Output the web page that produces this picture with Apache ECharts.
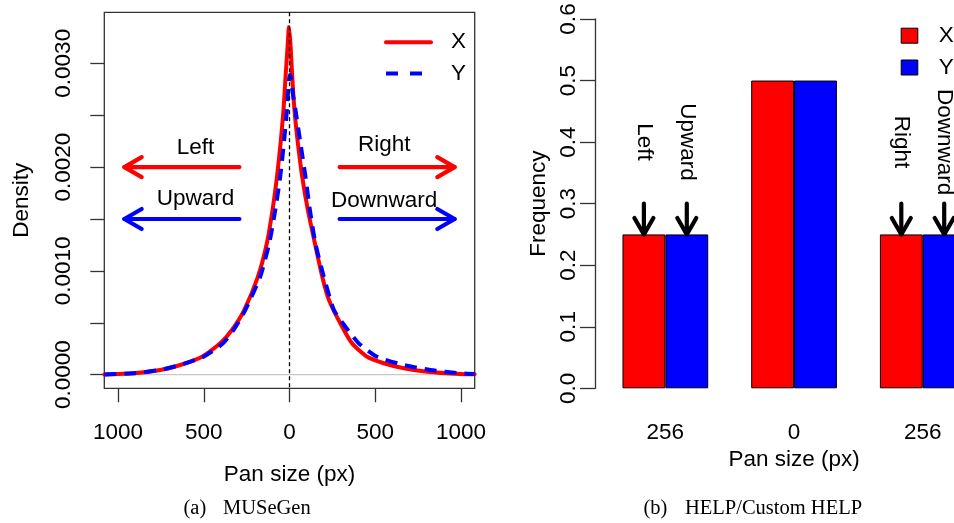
<!DOCTYPE html>
<html><head><meta charset="utf-8">
<script src="https://cdn.jsdelivr.net/npm/echarts@6/dist/echarts.min.js"></script>
<style>html,body{margin:0;padding:0;background:#fff}#c{width:954px;height:523px}</style>
</head><body><div id="c"></div>
<script>
// ---------- Panel (a): MUSeGen density ----------
const panX = [-1080, -909, -753, -637, -510, -404, -336, -264, -184, -132, -99, -73, -52, -35, -23, -12, -3, 6, 16, 29, 49, 74, 107, 148, 191, 230, 307, 365, 453, 550, 667, 803, 995, 1080];
const densX = [0.000003, 0.0000135, 0.000045, 0.0000935, 0.000173, 0.000302, 0.000431, 0.000623, 0.000944, 0.001266, 0.001587, 0.001908, 0.002229, 0.00255, 0.002871, 0.00314, 0.00335, 0.00318, 0.002871, 0.00255, 0.002229, 0.001908, 0.001587, 0.001266, 0.000944, 0.00072, 0.000462, 0.000302, 0.000173, 0.00011, 0.0000617, 0.0000289, 0.0000067, 0.000004];
const panY = [-1080, -909, -753, -637, -501, -388, -326, -258, -171, -118, -83, -54, -33, -15, -5, 2, 10, 20, 35, 64, 93, 119, 151, 200, 259, 326, 404, 511, 667, 820, 995, 1080];
const densY = [0.000003, 0.000014, 0.000046, 0.0000935, 0.000173, 0.000302, 0.000431, 0.000623, 0.000944, 0.001266, 0.001587, 0.001908, 0.002229, 0.00255, 0.00281, 0.00289, 0.00285, 0.0027, 0.00255, 0.002229, 0.001908, 0.001587, 0.001266, 0.000944, 0.000623, 0.000462, 0.000302, 0.000173, 0.0000935, 0.0000453, 0.0000135, 0.000006];
const densTicks = [0, 0.0005, 0.001, 0.0015, 0.002, 0.0025, 0.003];
const densLabels = [0, 0.001, 0.002, 0.003];
const panTicks = [-1000, -500, 0, 500, 1000];
// direction annotations (data space)
const dirNames = ['Left', 'Upward', 'Right', 'Downward'];
const dirAxis = ['X', 'Y', 'X', 'Y'];
const dirFrom = [-292, -292, 292, 292];
const dirTo = [-963, -963, 963, 963];
const dirLevel = [0.002, 0.0015, 0.002, 0.0015];
const dirLabelX = [-548, -548, 552, 552];
const dirLabelY = [0.00219, 0.00169, 0.00221, 0.00168];

// ---------- Panel (b): HELP/Custom HELP ----------
const helpCats = ['256', '0', '256'];
const helpX = [0.25, 0.5, 0.25];
const helpY = [0.25, 0.5, 0.25];
const helpArrowCat = [0, 0, 2, 2];
const helpArrowSide = ['X', 'Y', 'X', 'Y'];
const helpArrowNames = ['Left', 'Upward', 'Right', 'Downward'];
const helpArrowTop = 0.3, helpArrowTip = 0.25, helpLabelLevel = 0.4;

const FONT = 'Liberation Sans';
const FS = 22.5;
const RED = '#ff0000', BLUE = '#0000ff', AX = '#333333';
const colorOf = { X: RED, Y: BLUE };
const txt = { fontSize: FS, fontFamily: FONT, color: '#000' };

const chart = echarts.init(document.getElementById('c'));

function arrowShapes(p0, p1, color, lw, headLen) {
  const dx = p1[0] - p0[0], dy = p1[1] - p0[1];
  const L = Math.sqrt(dx * dx + dy * dy);
  const ux = dx / L, uy = dy / L;
  const a = Math.PI / 6;
  const arm = (s) => {
    const c = Math.cos(s * a), sn = Math.sin(s * a);
    const rx = ux * c - uy * sn, ry = ux * sn + uy * c;
    return [p1[0] - rx * headLen, p1[1] - ry * headLen];
  };
  const style = { stroke: color, lineWidth: lw, lineCap: 'round', lineJoin: 'round', fill: null };
  return [
    { type: 'line', shape: { x1: p0[0], y1: p0[1], x2: p1[0], y2: p1[1] }, style: style },
    { type: 'polyline', shape: { points: [arm(1), p1, arm(-1)] }, style: style }
  ];
}

const option = {
  animation: false,
  backgroundColor: '#fff',
  textStyle: { fontFamily: FONT },
  grid: [
    { left: 104.3, top: 12.3, width: 370.4, height: 376, show: true, borderColor: AX, borderWidth: 1.3, backgroundColor: 'transparent', outerBoundsMode: 'none', containLabel: false },
    { left: 601, top: 19, width: 386.1, height: 369.3, outerBoundsMode: 'none', containLabel: false }
  ],
  xAxis: [
    {
      type: 'value', gridIndex: 0, min: -1080, max: 1080, position: 'bottom',
      axisLine: { show: false, onZero: false }, splitLine: { show: false },
      axisTick: { show: true, inside: false, length: 14, lineStyle: { color: AX, width: 1.3 }, customValues: panTicks },
      axisLabel: Object.assign({ customValues: panTicks, margin: 33, formatter: v => String(Math.abs(v)) }, txt),
      name: 'Pan size (px)', nameLocation: 'middle', nameGap: 74.7, nameTextStyle: txt, nameMoveOverlap: false
    },
    {
      type: 'category', gridIndex: 1, data: helpCats, position: 'bottom',
      axisLine: { show: false, onZero: false }, axisTick: { show: false }, splitLine: { show: false },
      axisLabel: Object.assign({ margin: 33, interval: 0 }, txt),
      name: 'Pan size (px)', nameLocation: 'middle', nameGap: 59.7, nameTextStyle: txt, nameMoveOverlap: false
    }
  ],
  yAxis: [
    {
      type: 'value', gridIndex: 0, min: -0.000131, max: 0.003491, position: 'left',
      axisLine: { show: false, onZero: false }, splitLine: { show: false },
      axisTick: { show: true, inside: false, length: 14, lineStyle: { color: AX, width: 1.3 }, customValues: densTicks },
      axisLabel: Object.assign({ customValues: densLabels, rotate: 90, margin: 29.4, formatter: v => v.toFixed(4) }, txt),
      name: 'Density', nameLocation: 'middle', nameGap: 71, nameTextStyle: txt, nameMoveOverlap: false
    },
    {
      type: 'value', gridIndex: 1, min: 0, max: 0.6, interval: 0.1, offset: 6, position: 'left',
      axisLine: { show: true, onZero: false, lineStyle: { color: AX, width: 1.3 } }, splitLine: { show: false },
      axisTick: { show: true, inside: false, length: 15, lineStyle: { color: AX, width: 1.3 } },
      axisLabel: Object.assign({ rotate: 90, margin: 14.5, formatter: v => v.toFixed(1) }, txt),
      name: 'Frequency', nameLocation: 'middle', nameGap: 44.5, nameTextStyle: txt, nameMoveOverlap: false
    }
  ],
  legend: [
    {
      data: [
        { name: 'X', itemStyle: { opacity: 0 }, lineStyle: { color: RED, width: 4, type: 'solid' } },
        { name: 'Y', itemStyle: { opacity: 0 }, lineStyle: { color: BLUE, width: 4, type: [12, 12, 12, 100] } }
      ],
      orient: 'vertical', left: 384, top: 30.7, itemWidth: 45, itemHeight: 14, itemGap: 8.3, padding: 0,
      itemStyle: { opacity: 0 },
      selectedMode: false, textStyle: Object.assign({ lineHeight: 20, padding: [0, 0, 0, 15] }, txt)
    },
    {
      data: [
        { name: 'X', icon: 'rect', itemStyle: { color: RED, borderColor: '#000', borderWidth: 1, opacity: 1 } },
        { name: 'Y', icon: 'rect', itemStyle: { color: BLUE, borderColor: '#000', borderWidth: 1, opacity: 1 } }
      ],
      orient: 'vertical', left: 900.7, top: 24.2, itemWidth: 16.6, itemHeight: 15, itemGap: 8.8, padding: 0,
      selectedMode: false, textStyle: Object.assign({ lineHeight: 20, padding: [0, 0, 0, 16] }, txt)
    }
  ],
  series: [
    {
      type: 'custom', name: 'zero', xAxisIndex: 0, yAxisIndex: 0, z: 1, silent: true,
      data: [[0, 0]], encode: { x: 0, y: 1 },
      renderItem: (params, api) => {
        const cs = params.coordSys; const p = api.coord([0, api.value(1)]);
        return { type: 'line', shape: { x1: cs.x, y1: p[1], x2: cs.x + cs.width, y2: p[1] }, style: { stroke: '#c8c8c8', lineWidth: 1.3 } };
      }
    },
    {
      type: 'line', name: 'X', xAxisIndex: 0, yAxisIndex: 0, symbol: 'none', showSymbol: false,
      smooth: 0.2,
      data: panX.map((x, i) => [x, densX[i]]),
      lineStyle: { color: RED, width: 4, cap: 'round', join: 'round' }, itemStyle: { color: RED }
    },
    {
      type: 'line', name: 'Y', xAxisIndex: 0, yAxisIndex: 0, symbol: 'none', showSymbol: false,
      smooth: 0.2,
      data: panY.map((x, i) => [x, densY[i]]),
      lineStyle: { color: BLUE, width: 4, type: [12, 8], cap: 'butt' }, itemStyle: { color: BLUE }
    },
    {
      type: 'custom', name: 'center', xAxisIndex: 0, yAxisIndex: 0, z: 4, silent: true,
      data: [[0, 0]], encode: { x: 0, y: 1 },
      renderItem: (params, api) => {
        const cs = params.coordSys; const p = api.coord([api.value(0), 0]);
        return { type: 'line', shape: { x1: p[0], y1: cs.y, x2: p[0], y2: cs.y + cs.height }, style: { stroke: '#000', lineWidth: 1.3, lineDash: [4, 3] } };
      }
    },
    {
      type: 'custom', name: 'dirs', xAxisIndex: 0, yAxisIndex: 0, z: 5, silent: true,
      data: dirNames.map((n, i) => [dirFrom[i], dirTo[i], dirLevel[i], dirLabelX[i], dirLabelY[i], i]),
      encode: { x: [0, 1], y: 2 },
      renderItem: (params, api) => {
        const i = params.dataIndex;
        const p0 = api.coord([api.value(0), api.value(2)]);
        const p1 = api.coord([api.value(1), api.value(2)]);
        const pl = api.coord([api.value(3), api.value(4)]);
        const children = arrowShapes(p0, p1, colorOf[dirAxis[i]], 4.2, 20);
        children.push({ type: 'text', x: pl[0], y: pl[1], style: { text: dirNames[i], font: FS + 'px "' + FONT + '"', fill: '#000', align: 'center', verticalAlign: 'middle' } });
        return { type: 'group', children: children };
      }
    },
    {
      type: 'bar', name: 'X', xAxisIndex: 1, yAxisIndex: 1, data: helpX, barWidth: '33.3%', barGap: '0%',
      itemStyle: { color: RED, borderColor: '#000', borderWidth: 1 }
    },
    {
      type: 'bar', name: 'Y', xAxisIndex: 1, yAxisIndex: 1, data: helpY, barWidth: '33.3%', barGap: '0%',
      itemStyle: { color: BLUE, borderColor: '#000', borderWidth: 1 }
    },
    {
      type: 'custom', name: 'helpDirs', xAxisIndex: 1, yAxisIndex: 1, z: 5, silent: true,
      data: helpArrowNames.map((n, i) => [helpArrowCat[i], helpArrowTop]),
      encode: { x: 0, y: 1 },
      renderItem: (params, api) => {
        const i = params.dataIndex;
        const band = api.size([1, 0])[0];
        const off = (helpArrowSide[i] === 'X' ? -1 : 1) * band / 6;
        const c0 = api.coord([api.value(0), helpArrowTop]);
        const c1 = api.coord([api.value(0), helpArrowTip]);
        const cl = api.coord([api.value(0), helpLabelLevel]);
        const x = c0[0] + off;
        const children = arrowShapes([x, c0[1]], [x, c1[1]], '#000', 4.2, 19);
        children.push({ type: 'text', x: x, y: cl[1], rotation: -Math.PI / 2, style: { text: helpArrowNames[i], font: FS + 'px "' + FONT + '"', fill: '#000', align: 'center', verticalAlign: 'middle' } });
        return { type: 'group', children: children };
      }
    }
  ],
  graphic: [
    { type: 'text', x: 183.5, y: 509, style: { text: '(a)', font: '20.5px "Liberation Serif"', fill: '#000', align: 'left', verticalAlign: 'middle' } },
    { type: 'text', x: 223, y: 509, style: { text: 'MUSeGen', font: '20.5px "Liberation Serif"', fill: '#000', align: 'left', verticalAlign: 'middle' } },
    { type: 'text', x: 643.5, y: 509, style: { text: '(b)', font: '20.5px "Liberation Serif"', fill: '#000', align: 'left', verticalAlign: 'middle' } },
    { type: 'text', x: 685, y: 509, style: { text: 'HELP/Custom HELP', font: '20.5px "Liberation Serif"', fill: '#000', align: 'left', verticalAlign: 'middle' } }
  ]
};
chart.setOption(option);
</script>
</body></html>
